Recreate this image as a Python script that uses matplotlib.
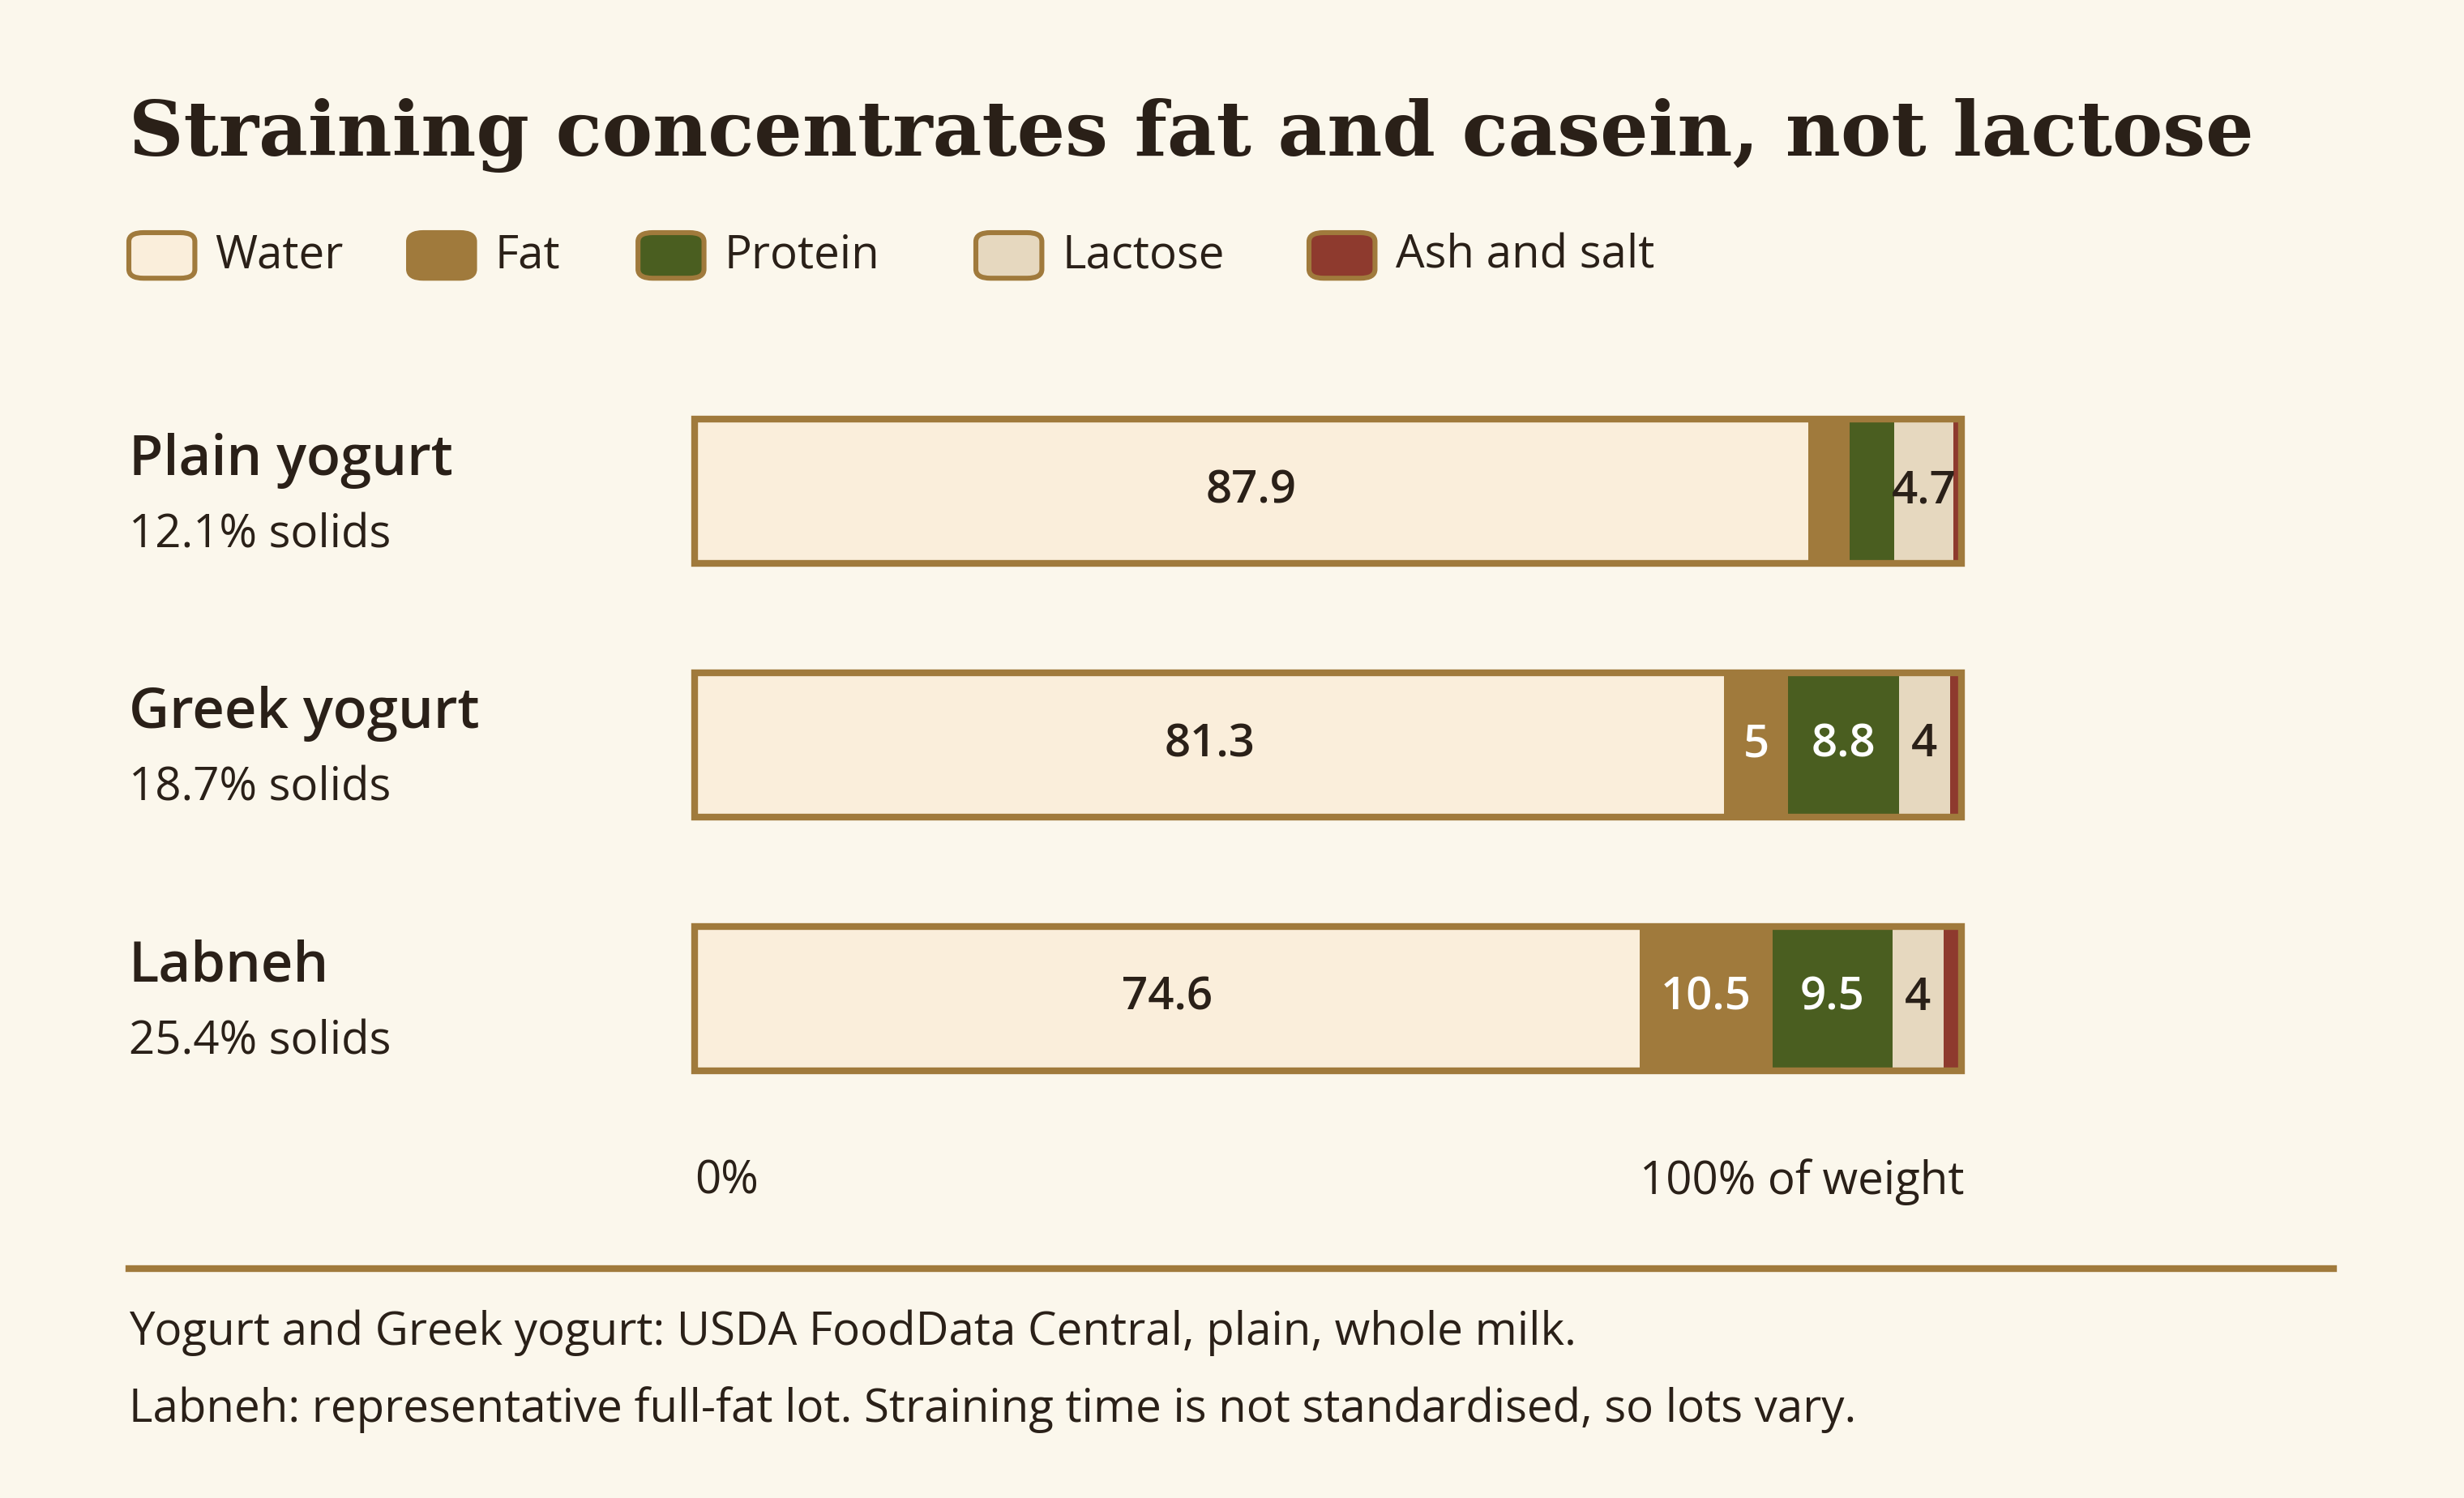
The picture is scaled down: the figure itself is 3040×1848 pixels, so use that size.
import matplotlib
matplotlib.use("Agg")
import matplotlib.pyplot as plt
from matplotlib.patches import FancyBboxPatch, Rectangle

# data (% of weight)
products = ["Plain yogurt", "Greek yogurt", "Labneh"]
solids = ["12.1% solids", "18.7% solids", "25.4% solids"]
components = ["Water", "Fat", "Protein", "Lactose", "Ash and salt"]
water = [87.9, 81.3, 74.6]
fat = [3.3, 5.0, 10.5]
protein = [3.5, 8.8, 9.5]
lactose = [4.7, 4.0, 4.0]
ash = [0.6, 0.9, 1.4]

BG = "#fbf7ec"; INK = "#2a2018"; BROWN = "#a07a3c"
colors = ["#faeedb", BROWN, "#4a5e20", "#e6d8bf", "#8e3a2e"]
text_col = [INK, "white", "white", INK, "white"]
SANS = ["Open Sans", "DejaVu Sans"]
BODY = 20.3

W, H = 1568, 953  # layout reference grid
def fx(x): return x / W
def fy(y): return 1 - y / H

fig = plt.figure(figsize=(15.2, 9.24), dpi=200, facecolor=BG)

fig.text(fx(82), fy(86), "Straining concentrates fat and casein, not lactose",
         family="DejaVu Serif", weight="bold", size=33.7, color=INK, va="center")

# legend
for x, name, c in zip([82, 260, 406, 621, 833], components, colors):
    fig.patches.append(FancyBboxPatch((fx(x), fy(177)), fx(42), 29 / H,
                       boxstyle="round,pad=0,rounding_size=0.006",
                       transform=fig.transFigure, fc=c, ec=BROWN, lw=2.2))
    fig.text(fx(x + 55), fy(163), name, family=SANS, size=BODY, color=INK, va="center")

ax = fig.add_axes([fx(442), fy(716), fx(1248) - fx(442), (716 - 232) / H])
ax.set_facecolor(BG)
ax.set_xlim(0, 100)
ax.set_ylim(2.5, -0.5)
ax.axis("off")

series = [water, fat, protein, lactose, ash]
bh = 0.57
for i in range(len(products)):
    left = 0
    for s, c, tc in zip(series, colors, text_col):
        v = s[i]
        ax.barh(i, v, left=left, height=bh, color=c, lw=0)
        if v >= 4:
            ax.text(left + v / 2, i, f"{v:g}", ha="center", va="center",
                    family=SANS, size=BODY, weight="semibold", color=tc)
        left += v
    ax.add_patch(Rectangle((0, i - bh / 2), left, bh, fill=False, ec=BROWN,
                           lw=3, clip_on=False))
    fig.text(fx(82), fy(293 + 161 * i), products[i], family=SANS, size=24.8,
             weight="semibold", color=INK, va="center")
    fig.text(fx(82), fy(341 + 161 * i), solids[i], family=SANS, size=BODY,
             color=INK, va="center")

fig.text(fx(442), fy(752), "0%", family=SANS, size=BODY, color=INK, va="center")
fig.text(fx(1250), fy(752), "100% of weight", family=SANS, size=BODY, color=INK,
         va="center", ha="right")

fig.add_artist(plt.Line2D([fx(82), fx(1485)], [fy(807), fy(807)], color=BROWN, lw=3))
fig.text(fx(82), fy(848), "Yogurt and Greek yogurt: USDA FoodData Central, plain, whole milk.",
         family=SANS, size=BODY, color=INK, va="center")
fig.text(fx(82), fy(897), "Labneh: representative full-fat lot. Straining time is not standardised, so lots vary.",
         family=SANS, size=BODY, color=INK, va="center")

fig.savefig("out.png", dpi=200, facecolor=BG)
